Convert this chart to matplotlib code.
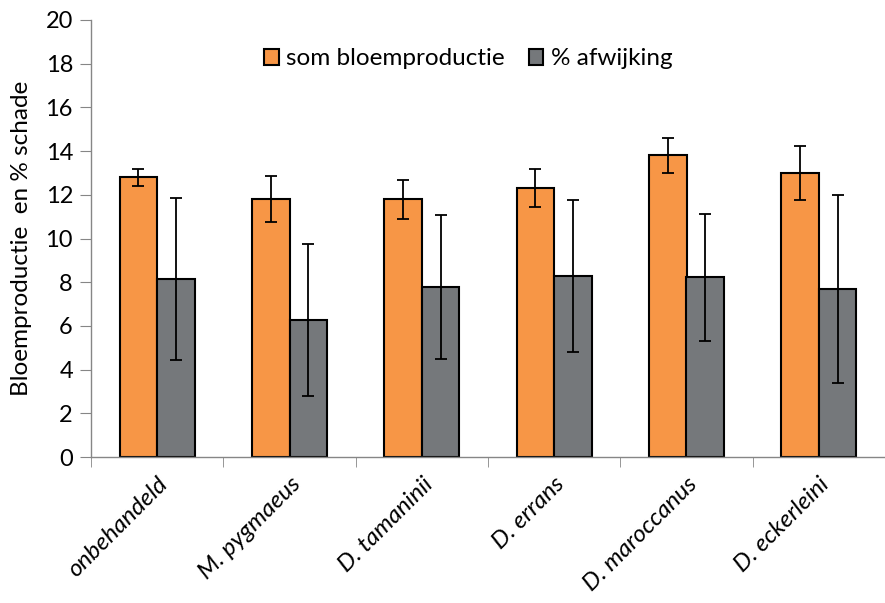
import numpy as np
import matplotlib
matplotlib.use("Agg")
import matplotlib.pyplot as plt

plt.rcParams['font.family'] = ['Lato', 'DejaVu Sans']

categories = ["onbehandeld", "M. pygmaeus", "D. tamaninii", "D. errans", "D. maroccanus", "D. eckerleini"]
som_bloem = [12.8, 11.8, 11.8, 12.3, 13.8, 13.0]
som_bloem_err = [0.4, 1.05, 0.9, 0.88, 0.8, 1.23]
afwijking = [8.15, 6.27, 7.77, 8.28, 8.22, 7.67]
afwijking_err = [3.7, 3.5, 3.3, 3.48, 2.92, 4.3]

fig = plt.figure(figsize=(8.85, 6.03), dpi=100)
ax = fig.add_axes([91/885, (603-457)/603, (885-91)/885, (457-20)/603])

x = np.arange(len(categories))
w = 0.284
err_kw = dict(ecolor='black', elinewidth=1.3, capsize=4.5, capthick=1.3)
ax.bar(x - w/2, som_bloem, w, yerr=som_bloem_err, color='#F79646', edgecolor='black',
       linewidth=1.5, label='som bloemproductie', error_kw=err_kw, zorder=2)
ax.bar(x + w/2, afwijking, w, yerr=afwijking_err, color='#75787B', edgecolor='black',
       linewidth=1.5, label='% afwijking', error_kw=err_kw, zorder=2)

ax.set_ylim(0, 20)
ax.set_xlim(-0.5, 5.5 - 9/134)
ax.set_yticks(range(0, 21, 2))
ax.tick_params(axis='y', labelsize=17, length=8, color='#868686', pad=5)

ax.set_xticks(x)
ax.set_xticklabels(categories, rotation=45, ha='right', rotation_mode='anchor',
                   fontsize=17.5, style='italic')
ax.tick_params(axis='x', which='major', length=0, pad=12)
ax.set_xticks(np.arange(-0.5, 5.6, 1), minor=True)
ax.tick_params(axis='x', which='minor', length=7, color='#868686')

for s in ['top', 'right']:
    ax.spines[s].set_visible(False)
for s in ['left', 'bottom']:
    ax.spines[s].set_color('#868686')
    ax.spines[s].set_linewidth(1.0)

ax.set_ylabel('Bloemproductie  en % schade', fontsize=17.5, labelpad=10)

ax.legend(loc='upper center', bbox_to_anchor=(0.475, 0.985), ncol=2, frameon=False,
          fontsize=17.5, handlelength=0.6, handleheight=0.6, handletextpad=0.3,
          columnspacing=1.0)

fig.savefig('out.png', dpi=100)
